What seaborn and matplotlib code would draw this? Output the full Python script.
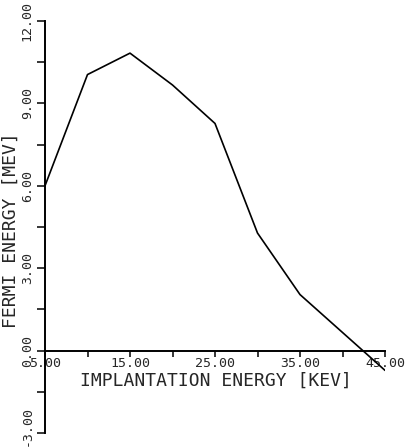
import matplotlib
matplotlib.use("Agg")
import matplotlib.pyplot as plt
import matplotlib.transforms as mtransforms
import seaborn as sns
import pandas as pd
from matplotlib.ticker import FixedLocator, MultipleLocator

implantation_kev = [5, 10, 15, 20, 25, 30, 35, 45]
fermi_mev = [6.0, 10.05, 10.83, 9.67, 8.27, 4.28, 2.04, -0.72]
x_tick_values = [5, 15, 25, 35, 45]
x_tick_labels = ["5.00", "15.00", "25.00", "35.00", "45.00"]
y_tick_values = [-3, 0, 3, 6, 9, 12]
y_tick_labels = ["-3.00", "0.00", "3.00", "6.00", "9.00", "12.00"]

sns.set_style("ticks")
plt.rcParams["font.family"] = ["DejaVu Sans Mono", "DejaVu Sans"]

df = pd.DataFrame({"x": implantation_kev, "y": fermi_mev})

fig = plt.figure(figsize=(4.07, 4.47), dpi=100)
ax = fig.add_axes([45 / 407, 14 / 447, 340 / 407, 412 / 447])
sns.lineplot(data=df, x="x", y="y", ax=ax, color="black", linewidth=1.2)

ax.set_xlim(5, 45)
ax.set_ylim(-3, 12)
ax.spines["top"].set_visible(False)
ax.spines["right"].set_visible(False)
ax.spines["bottom"].set_position(("data", 0))
for s in ("left", "bottom"):
    ax.spines[s].set_color("black")
    ax.spines[s].set_linewidth(1.4)

ax.xaxis.set_major_locator(FixedLocator(x_tick_values))
ax.set_xticklabels(x_tick_labels)
ax.xaxis.set_minor_locator(MultipleLocator(5))
ax.yaxis.set_major_locator(FixedLocator(y_tick_values))
ax.set_yticklabels(y_tick_labels)
ax.yaxis.set_minor_locator(MultipleLocator(1.5))

ax.tick_params(axis="x", which="both", direction="out", length=4, width=1.1, color="black",
               labelsize=9.5, pad=0.5)
ax.tick_params(axis="y", which="both", direction="out", length=6, width=1.1, color="black",
               labelsize=9.5, pad=2)
for lab in ax.get_yticklabels():
    lab.set_rotation(90)
    lab.set_va("center")
# the lowest label sits a little above its tick, as in the original plot
low = ax.get_yticklabels()[0]
low.set_transform(low.get_transform() + mtransforms.ScaledTranslation(0, 7 / 100, fig.dpi_scale_trans))

ax.set_xlabel("")
ax.set_ylabel("")
fig.text(216 / 407, 1 - 381 / 447, "IMPLANTATION ENERGY [KEV]", ha="center", va="center",
         fontsize=13)
fig.text(11 / 407, 1 - 230 / 447, "FERMI ENERGY [MEV]", ha="center", va="center",
         rotation=90, fontsize=13)

fig.savefig("out.png", dpi=100)
